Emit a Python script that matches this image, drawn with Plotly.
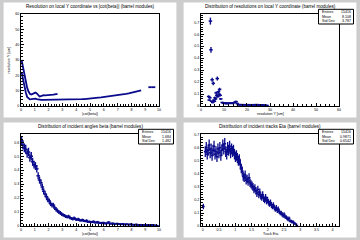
import plotly.graph_objects as go

W, H = 360, 240
BLUE = "#0a0a8c"
BG = "#cdcdcd"
FONT = "Liberation Sans, Arial, sans-serif"

# ---------------- data ----------------
# Panel 1: resolution vs |cot(beta)|
p1_upper_x = [0.05, 0.15, 0.25, 0.35, 0.45, 0.55, 0.65, 0.75, 0.85, 0.95, 1.05, 1.15, 1.25, 1.35,
              1.45, 1.55, 1.65, 1.75, 1.85, 1.95, 2.05, 2.15, 2.25, 2.35, 2.45, 2.55, 2.65]
p1_upper_y = [30, 25, 20, 15.5, 12, 9.5, 8, 7.5, 7.8, 8.6, 8.8, 8.2, 7.2, 6.2,
              6.5, 7.0, 7.1, 7.0, 7.0, 7.1, 7.0, 7.1, 7.2, 7.4, 7.6, 7.8, 8.0]
p1_lower_x = [0.05, 0.15, 0.25, 0.35, 0.45, 0.55, 0.65, 0.75, 0.85, 0.95, 1.05, 1.15, 1.25, 1.35, 1.45,
              1.6, 1.8, 2.0, 2.2, 2.4, 2.6, 2.8, 3.0, 3.2, 3.4, 3.6, 3.8, 4.0, 4.2, 4.4, 4.6, 4.8,
              5.0, 5.2, 5.4, 5.6, 5.8, 6.0, 6.2, 6.4, 6.6, 6.8, 7.0, 7.2, 7.4, 7.6, 7.8, 8.0,
              8.2, 8.4, 8.6, 8.7]
p1_lower_y = [22, 17, 13, 9, 6, 4.8, 4.4, 4.5, 4.8, 5.0, 4.9, 4.6, 4.3, 3.9, 4.0,
              4.1, 4.1, 4.1, 4.2, 4.2, 4.2, 4.2, 4.3, 4.3, 4.3, 4.3, 4.3, 4.3, 4.4, 4.5, 4.6, 4.7,
              4.9, 5.1, 5.3, 5.5, 5.7, 5.9, 6.1, 6.3, 6.5, 6.7, 7.0, 7.3, 7.6, 7.9, 8.3, 8.7,
              9.1, 9.6, 10.1, 10.3]
p1_tail_x = [9.35, 9.6]
p1_tail_y = [12.3, 12.3]

# Panel 2: distribution of resolutions
p2_x = [3.375, 3.625, 3.875, 4.125, 4.375, 4.625, 4.875, 5.125, 5.375, 5.625, 5.875, 6.125,
        6.375, 6.625, 6.875, 7.125, 7.375, 7.625, 7.875, 8.125, 8.375, 8.625,
        9.25, 9.75, 10.25, 10.75, 11.25, 11.75, 12.25, 12.75, 13.25, 13.75, 14.25, 14.75,
        15.25, 15.75, 16.25, 16.75, 17.25, 17.75, 18.25, 18.75, 19.25, 19.75, 20.25, 20.75,
        21.25, 21.75, 22.25, 22.75, 23.25, 23.75, 24.25, 24.75, 25.25, 25.75, 26.25, 26.75,
        27.25, 27.75, 28.25, 28.75]
p2_y = [0.08, 0.05, 0.07, 0.71, 0.47, 0.04, 0.22, 0.03, 0.19, 0.05, 0.04, 0.07,
        0.06, 0.11, 0.09, 0.23, 0.08, 0.12, 0.10, 0.14, 0.09, 0.06,
        0.030, 0.025, 0.022, 0.028, 0.020, 0.025, 0.022, 0.026, 0.024, 0.022, 0.028, 0.032,
        0.038, 0.022, 0.012, 0.010, 0.013, 0.011, 0.009, 0.012, 0.010, 0.011, 0.009, 0.012,
        0.010, 0.008, 0.011, 0.012, 0.009, 0.010, 0.013, 0.009, 0.011, 0.008, 0.010, 0.009,
        0.007, 0.008, 0.006, 0.005]

# Panel 3: incident angle |cot(beta)| (bins of 0.1 from 0)
p3_lo, p3_w = 0.0, 0.1
p3_y = [0.61, 0.58, 0.56, 0.55, 0.52, 0.53, 0.49, 0.50, 0.46, 0.44,
        0.43, 0.41, 0.36, 0.33, 0.31, 0.28, 0.25, 0.23, 0.21, 0.19,
        0.18, 0.16, 0.15, 0.15, 0.13, 0.12, 0.11, 0.10, 0.095, 0.085,
        0.08, 0.075, 0.07, 0.065, 0.07, 0.06, 0.055, 0.05, 0.058, 0.05,
        0.045, 0.05, 0.042, 0.04, 0.045, 0.038, 0.035, 0.04, 0.03, 0.032,
        0.03, 0.028, 0.033, 0.026, 0.025, 0.03, 0.022, 0.024, 0.02, 0.025,
        0.02, 0.018, 0.022, 0.028, 0.018, 0.017, 0.02, 0.015, 0.016, 0.018,
        0.014, 0.015, 0.012, 0.016, 0.013, 0.011, 0.014, 0.012, 0.01, 0.013,
        0.011, 0.009, 0.01, 0.012, 0.008, 0.009, 0.01, 0.007, 0.008, 0.009,
        0.007, 0.008, 0.006, 0.007, 0.009, 0.005, 0.006, 0.004, 0.003, None]

# Panel 4: track eta (bins of 0.03 from 0)
p4_lo, p4_w = 0.0, 0.03
p4_y = [0.15, None, 0.57, 0.60, 0.55, 0.58, 0.62, 0.56, 0.59, 0.54,
        0.58, 0.61, 0.55, 0.57, 0.53, 0.59, 0.56, 0.60, 0.54, 0.58,
        0.62, 0.59, 0.63, 0.57, 0.55, 0.60, 0.58, 0.61, 0.56, 0.59,
        0.57, 0.58, 0.55, 0.53, 0.54, 0.52, 0.50, 0.51, 0.47, 0.44,
        0.42, 0.38, 0.37, 0.39, 0.35, 0.36, 0.34, 0.37, 0.33, 0.32,
        0.31, 0.30, 0.28, 0.29, 0.27, 0.25, 0.28, 0.24, 0.26, 0.23,
        0.22, 0.24, 0.21, 0.20, 0.22, 0.19, 0.20, 0.18, 0.17, 0.18,
        0.16, 0.15, 0.16, 0.14, 0.13, 0.14, 0.12, 0.13, 0.11, 0.10,
        0.10, 0.09, 0.08, 0.09, 0.07, 0.07, 0.06, 0.05, 0.06, 0.04,
        0.04, 0.03, 0.035, 0.025, 0.02, 0.015, 0.005, None, None, None]

titles = ["Resolution on local Y coordinate vs |cot(beta)| (barrel modules)",
          "Distribution of resolutions on local Y coordinate (barrel modules)",
          "Distribution of incident angles beta (barrel modules)",
          "Distribution of incident tracks Eta (barrel modules)"]
xtitles = ["|cot(beta)|", "resolution Y [um]", "|cot(beta)|", "Track Eta"]
ytitles = ["resolution Y [um]", "", "", ""]
stat_labels = ["Entries", "Mean", "Std Dev"]
stat_values = [None,
               ["15416", "8.108", "3.787"],
               ["15416", "1.684", "1.482"],
               ["15416", "0.9871", "0.6542"]]

x_ranges = [[0, 10], [0, 60], [0, 10], [-0.06, 4.2]]
y_ranges = [[0, 60], [0, 0.77], [0, 0.66], [0, 0.705]]
x_dticks = [(1, 0.2), (10, 2), (1, 0.2), (0.5, 0.1)]
y_dticks = [(10, 2), (0.1, 0.02), (0.1, 0.02), (0.1, 0.02)]

# error model (statistical, from values)
def errs(vals, k):
    return [None if v is None else (v * k) ** 0.5 for v in vals]

# ---------------- layout ----------------
offsets = [(0, 0), (180, 0), (0, 120), (180, 120)]
FL, FR, FT, FB = 20.9, 159.1, 13.9, 106.1

def px(x):
    return x / W

def py(y):
    return 1 - y / H

fig = go.Figure()
layout = dict(width=W, height=H, margin=dict(l=0, r=0, t=0, b=0),
              paper_bgcolor=BG, plot_bgcolor="white", showlegend=False,
              font=dict(family=FONT, color="black"))
shapes = []
annotations = []

for i, (ox, oy) in enumerate(offsets):
    sfx = "" if i == 0 else str(i + 1)
    shapes.append(dict(type="rect", xref="paper", yref="paper", layer="below",
                       x0=px(ox + 3.6), x1=px(ox + 176.4), y0=py(oy + 117.6), y1=py(oy + 2.4),
                       fillcolor="white", line=dict(width=0)))
    common = dict(showgrid=False, zeroline=False, showline=True, mirror=True,
                  linecolor="black", linewidth=1, ticks="inside", ticklen=3.5,
                  tickwidth=1, tickcolor="black", automargin=False,
                  tickfont=dict(size=3.6, family=FONT, color="black"))
    layout["xaxis" + sfx] = dict(common, domain=[px(ox + FL), px(ox + FR)], range=x_ranges[i],
                                 anchor="y" + sfx, dtick=x_dticks[i][0], tick0=0, ticklabelstandoff=0,
                                 minor=dict(ticks="inside", ticklen=1.8, dtick=x_dticks[i][1],
                                            tick0=0, tickcolor="black", tickwidth=1))
    layout["yaxis" + sfx] = dict(common, domain=[py(oy + FB), py(oy + FT)], range=y_ranges[i],
                                 anchor="x" + sfx, dtick=y_dticks[i][0], tick0=0,
                                 minor=dict(ticks="inside", ticklen=1.8, dtick=y_dticks[i][1],
                                            tick0=0, tickcolor="black", tickwidth=1))
    annotations.append(dict(text=titles[i], x=px(ox + 90), y=py(oy + 6.5), xref="paper", yref="paper",
                            showarrow=False, xanchor="center", yanchor="middle",
                            font=dict(size=4.6, family=FONT, color="black")))
    annotations.append(dict(text=xtitles[i], x=px(ox + 90), y=py(oy + 114.3), xref="paper", yref="paper",
                            showarrow=False, xanchor="center", yanchor="middle",
                            font=dict(size=3.6, family=FONT, color="black")))
    if ytitles[i]:
        annotations.append(dict(text=ytitles[i], x=px(ox + 8.5), y=py(oy + 60), xref="paper",
                                yref="paper", showarrow=False, textangle=-90,
                                xanchor="center", yanchor="middle",
                                font=dict(size=3.6, family=FONT, color="black")))
    if stat_values[i]:
        shapes.append(dict(type="rect", xref="paper", yref="paper",
                           x0=px(ox + 138.5), x1=px(ox + 173.5), y0=py(oy + 24), y1=py(oy + 9.3),
                           fillcolor="white", line=dict(width=1, color="black")))
        for j, (lab, val) in enumerate(zip(stat_labels, stat_values[i])):
            yy = oy + 12 + j * 4.6
            annotations.append(dict(text=lab, x=px(ox + 140), y=py(yy), xref="paper", yref="paper",
                                    showarrow=False, xanchor="left", yanchor="middle",
                                    font=dict(size=3.6, family=FONT, color="black")))
            annotations.append(dict(text=val, x=px(ox + 172.5), y=py(yy), xref="paper", yref="paper",
                                    showarrow=False, xanchor="right", yanchor="middle",
                                    font=dict(size=3.6, family=FONT, color="black")))

layout["shapes"] = shapes
layout["annotations"] = annotations
fig.update_layout(**layout)

# ---------------- traces ----------------
fig.add_trace(go.Scatter(x=p1_upper_x, y=p1_upper_y, mode="lines", xaxis="x", yaxis="y",
                         line=dict(color=BLUE, width=1.8)))
fig.add_trace(go.Scatter(x=p1_lower_x, y=p1_lower_y, mode="lines", xaxis="x", yaxis="y",
                         line=dict(color=BLUE, width=1.8)))
fig.add_trace(go.Scatter(x=p1_tail_x, y=p1_tail_y, mode="markers", xaxis="x", yaxis="y",
                         marker=dict(symbol="line-ew-open", size=2.5, color=BLUE,
                                     line=dict(color=BLUE, width=1.8))))

def hist_trace(xs, ys, k, ax, binpx, thick):
    return go.Scatter(x=xs, y=ys, mode="markers", xaxis="x" + ax, yaxis="y" + ax,
                      marker=dict(symbol="line-ew-open", size=binpx, color=BLUE,
                                  line=dict(color=BLUE, width=1.5)),
                      error_y=dict(type="data", array=errs(ys, k), width=0,
                                   thickness=thick, color=BLUE))

fig.add_trace(hist_trace(p2_x, p2_y, 0.0012, "2", 2.5, 1.4))
p3_x = [p3_lo + (i + 0.5) * p3_w for i in range(len(p3_y))]
fig.add_trace(hist_trace(p3_x, p3_y, 0.0018, "3", 2.5, 1.4))
p4_x = [p4_lo + (i + 0.5) * p4_w for i in range(len(p4_y))]
fig.add_trace(hist_trace(p4_x, p4_y, 0.003, "4", 2, 1.3))

fig.write_html("out.html")
